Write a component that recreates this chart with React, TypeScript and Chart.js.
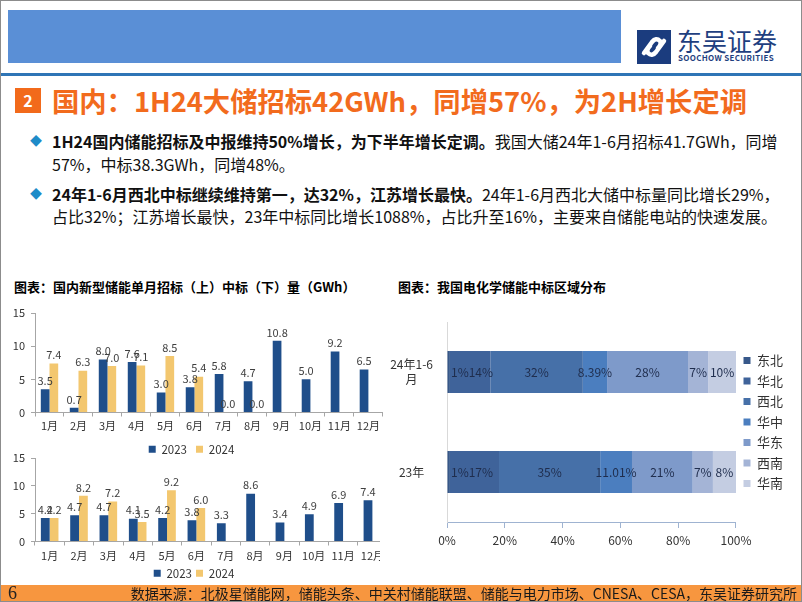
import React, { useEffect, useRef } from 'react';
import { Chart, registerables } from 'chart.js';

Chart.register(...registerables);

const FONT = '"Noto Sans CJK SC", "Noto Sans", sans-serif';

// ---------- data ----------
const months = ['1月', '2月', '3月', '4月', '5月', '6月', '7月', '8月', '9月', '10月', '11月', '12月'];
const seriesNames = ['2023', '2024'];
const tender2023 = [3.5, 0.7, 8.0, 7.6, 3.0, 3.8, 5.8, 4.7, 10.8, 5.0, 9.2, 6.5];
const tender2024 = [7.4, 6.3, 7.0, 7.1, 8.5, 5.4, 0.0, 0.0, null, null, null, null];
const award2023 = [4.2, 4.7, 4.7, 4.1, 4.2, 3.8, 3.3, 8.6, 3.4, 4.9, 6.9, 7.4];
const award2024 = [4.2, 8.2, 7.2, 3.5, 9.2, 6.0, null, null, null, null, null, null];
const gwhTicks = [0, 5, 10, 15];

const periods = [['24年1-6', '月'], '23年'];
const regions = ['东北', '华北', '西北', '华中', '华东', '西南', '华南'];
const share24H1 = [1, 14, 32, 8.39, 28, 7, 10];
const share23 = [1, 17, 35, 11.01, 21, 7, 8];
const pctTicks = [0, 20, 40, 60, 80, 100];

// ---------- styles ----------
const seriesColors = ['#1F4E8A', '#F3C76F'];
const regionColors = ['#37588A', '#3F639A', '#4670A8', '#4B7EBF', '#7E9ACA', '#A4B4D6', '#C4CDE2'];

const barValueLabels = {
  id: 'barValueLabels',
  afterDatasetsDraw(chart: any) {
    const { ctx } = chart;
    ctx.save();
    ctx.font = `11px ${FONT}`;
    ctx.fillStyle = '#404040';
    ctx.textAlign = 'center';
    ctx.textBaseline = 'bottom';
    chart.data.datasets.forEach((ds: any, i: number) => {
      const meta = chart.getDatasetMeta(i);
      meta.data.forEach((el: any, j: number) => {
        const v = ds.data[j];
        if (v == null) return;
        ctx.fillText(Number(v).toFixed(1), el.x, el.y - 3);
      });
    });
    ctx.restore();
  },
};

const shareLabels = {
  id: 'shareLabels',
  afterDatasetsDraw(chart: any) {
    const { ctx } = chart;
    ctx.save();
    ctx.font = `12px ${FONT}`;
    ctx.fillStyle = '#1F2D4D';
    ctx.textAlign = 'left';
    ctx.textBaseline = 'middle';
    const n = chart.data.labels.length;
    for (let j = 0; j < n; j++) {
      let prevRight = -Infinity;
      chart.data.datasets.forEach((ds: any, i: number) => {
        const el: any = chart.getDatasetMeta(i).data[j];
        const v = ds.data[j];
        if (v == null || !el) return;
        const text = `${v}%`;
        const w = ctx.measureText(text).width;
        const start = Math.min(el.base, el.x);
        const end = Math.min(Math.max(el.base, el.x), chart.chartArea.right);
        const center = (start + end) / 2;
        const left = Math.max(center - w / 2, prevRight, chart.chartArea.left + 4);
        ctx.fillText(text, left, el.y);
        prevRight = left + w;
      });
    }
    ctx.restore();
  },
};

type BarProps = {
  d23: (number | null)[];
  d24: (number | null)[];
  width: number;
  height: number;
  padTop: number;
  labelPad: number;
  legendPad: number;
};

function MonthlyBars({ d23, d24, width, height, padTop, labelPad, legendPad }: BarProps) {
  const ref = useRef<HTMLCanvasElement>(null);
  useEffect(() => {
    const chart = new Chart(ref.current as HTMLCanvasElement, {
      type: 'bar',
      data: {
        labels: months,
        datasets: [
          { label: seriesNames[0], data: d23, backgroundColor: seriesColors[0], categoryPercentage: 0.6, barPercentage: 1 },
          { label: seriesNames[1], data: d24, backgroundColor: seriesColors[1], categoryPercentage: 0.6, barPercentage: 1 },
        ],
      } as any,
      options: {
        animation: false,
        responsive: false,
        devicePixelRatio: 1,
        layout: { padding: { top: padTop, right: 0, left: 0, bottom: 0 } },
        plugins: {
          legend: {
            position: 'bottom',
            labels: { boxWidth: 7, boxHeight: 7, padding: legendPad, color: '#333', font: { size: 11.5, family: FONT } },
          },
          tooltip: { enabled: false },
        },
        scales: {
          x: {
            grid: { display: true, drawOnChartArea: false, drawTicks: true, tickLength: 4, color: '#A6A6A6', offset: true },
            border: { color: '#A6A6A6' },
            ticks: { color: '#333', font: { size: 11, family: FONT }, padding: labelPad, maxRotation: 0, autoSkip: false },
            afterFit: (s: any) => { s.height = 22; },
          },
          y: {
            min: gwhTicks[0],
            max: gwhTicks[gwhTicks.length - 1],
            afterBuildTicks: (s: any) => { s.ticks = gwhTicks.map((v) => ({ value: v })); },
            grid: { display: true, drawOnChartArea: false, drawTicks: true, tickLength: 4, color: '#A6A6A6' },
            border: { color: '#A6A6A6' },
            ticks: { color: '#333', font: { size: 11, family: FONT }, padding: 6 },
            afterFit: (s: any) => { s.width = 35; },
          },
        },
      } as any,
      plugins: [barValueLabels],
    });
    return () => chart.destroy();
  }, []);
  return <canvas ref={ref} width={width} height={height} style={{ display: 'block', width, height }} />;
}

function RegionShares() {
  const ref = useRef<HTMLCanvasElement>(null);
  useEffect(() => {
    const chart = new Chart(ref.current as HTMLCanvasElement, {
      type: 'bar',
      data: {
        labels: periods,
        datasets: regions.map((r, i) => ({
          label: r,
          data: [share24H1[i], share23[i]],
          backgroundColor: regionColors[i],
          barPercentage: 0.42,
          categoryPercentage: 1,
        })),
      } as any,
      options: {
        indexAxis: 'y',
        animation: false,
        responsive: false,
        devicePixelRatio: 1,
        layout: { padding: { top: 22, right: 9, left: 0, bottom: 0 } },
        plugins: {
          legend: {
            position: 'right',
            fullSize: false,
            labels: { boxWidth: 7, boxHeight: 7, padding: 7.5, color: '#333', font: { size: 13, family: FONT } },
          },
          tooltip: { enabled: false },
        },
        scales: {
          x: {
            stacked: true,
            min: pctTicks[0],
            max: pctTicks[pctTicks.length - 1],
            afterBuildTicks: (s: any) => { s.ticks = pctTicks.map((v) => ({ value: v })); },
            grid: { display: true, drawOnChartArea: false, drawTicks: true, tickLength: 6, color: '#9FB3D1' },
            border: { color: '#9FB3D1' },
            ticks: { color: '#333', font: { size: 12, family: FONT }, padding: 5, callback: (v: any) => `${v}%` },
            afterFit: (s: any) => { s.height = 30; },
          },
          y: {
            stacked: true,
            grid: { display: true, drawOnChartArea: false, drawTicks: false },
            border: { color: '#D9D9D9' },
            ticks: { color: '#333', font: { size: 12, family: FONT }, padding: 14, crossAlign: 'center' },
            afterFit: (s: any) => { s.width = 62; },
          },
        },
      } as any,
      plugins: [shareLabels],
    });
    return () => chart.destroy();
  }, []);
  return <canvas ref={ref} width={417} height={252} style={{ display: 'block', width: 417, height: 252 }} />;
}

function Logo() {
  return (
    <div style={{ position: 'absolute', left: 637, top: 28 }}>
      <svg width={34} height={34} style={{ position: 'absolute', left: 0, top: 2 }}>
        <rect x={0} y={0} width={34} height={34} fill="#1B3C7E" />
        <path d="M7 23 L15 12 Q19 7 23 11 Q25 14 21 18" stroke="#fff" strokeWidth={4.5} fill="none" strokeLinecap="round" />
        <path d="M27 11 L19 22 Q15 27 11 23 Q9 20 13 16" stroke="#fff" strokeWidth={4.5} fill="none" strokeLinecap="round" />
      </svg>
      <div style={{ position: 'absolute', left: 40, top: -3, fontSize: 25, lineHeight: '30px', color: '#1F3F7F', fontFamily: FONT, whiteSpace: 'nowrap' }}>东吴证券</div>
      <div style={{ position: 'absolute', left: 41, top: 25, fontSize: 8, fontWeight: 700, lineHeight: '10px', color: '#1F3F7F', fontFamily: FONT, letterSpacing: 0.3, whiteSpace: 'nowrap' }}>SOOCHOW SECURITIES</div>
    </div>
  );
}

export default function App() {
  const text: React.CSSProperties = { position: 'absolute', fontFamily: FONT, whiteSpace: 'nowrap', color: '#111' };
  return (
    <div style={{ position: 'absolute', left: 0, top: 0, width: 802, height: 602, background: '#fff', overflow: 'hidden', fontFamily: FONT }}>
      <div style={{ position: 'absolute', left: 8, top: 10, width: 613, height: 53, background: '#5A8FD6' }} />
      <Logo />
      <div style={{ position: 'absolute', left: 0, top: 73, width: 802, height: 3, background: '#2E75B6' }} />
      <div style={{ position: 'absolute', left: 15, top: 88, width: 26, height: 25, background: '#F26A1B', color: '#fff', fontWeight: 700, fontSize: 16, lineHeight: '25px', textAlign: 'center' }}>2</div>
      <div style={{ ...text, left: 52, top: 84, fontSize: 27.3, fontWeight: 700, lineHeight: '33px', color: '#F26B1D' }}>国内：1H24大储招标42GWh，同增57%，为2H增长定调</div>

      <div style={{ ...text, left: 30, top: 133, fontSize: 12, lineHeight: '16px', color: '#1E8BC8' }}>◆</div>
      <div style={{ ...text, left: 52, top: 131, fontSize: 16, lineHeight: '20px' }}><b>1H24国内储能招标及中报维持50%增长，为下半年增长定调。</b>我国大储24年1-6月招标41.7GWh，同增</div>
      <div style={{ ...text, left: 52, top: 154, fontSize: 16, lineHeight: '20px' }}>57%，中标38.3GWh，同增48%。</div>
      <div style={{ ...text, left: 30, top: 186, fontSize: 12, lineHeight: '16px', color: '#1E8BC8' }}>◆</div>
      <div style={{ ...text, left: 52, top: 184, fontSize: 16, lineHeight: '20px' }}><b>24年1-6月西北中标继续维持第一，达32%，江苏增长最快。</b>24年1-6月西北大储中标量同比增长29%，</div>
      <div style={{ ...text, left: 52, top: 206, fontSize: 16, lineHeight: '20px' }}>占比32%；江苏增长最快，23年中标同比增长1088%，占比升至16%，主要来自储能电站的快速发展。</div>

      <div style={{ ...text, left: 14, top: 279, fontSize: 13, fontWeight: 700, lineHeight: '16px', color: '#000' }}>图表：国内新型储能单月招标（上）中标（下）量（GWh）</div>
      <div style={{ ...text, left: 398, top: 279, fontSize: 13, fontWeight: 700, lineHeight: '16px', color: '#000' }}>图表：我国电化学储能中标区域分布</div>

      <div style={{ position: 'absolute', left: 0, top: 300, width: 382, height: 165 }}>
        <MonthlyBars d23={tender2023} d24={tender2024} width={383} height={165} padTop={13} labelPad={3} legendPad={9} />
      </div>
      <div style={{ position: 'absolute', left: 0, top: 445, width: 380, height: 144, overflow: 'hidden' }}>
        <MonthlyBars d23={award2023} d24={award2024} width={388} height={144} padTop={13} labelPad={4} legendPad={4} />
      </div>
      <div style={{ position: 'absolute', left: 385, top: 300, width: 417, height: 252 }}>
        <RegionShares />
      </div>

      <div style={{ position: 'absolute', left: 0, top: 585, width: 802, height: 17, background: '#F7963F' }} />
      <div style={{ position: 'absolute', left: 8, top: 584, fontSize: 18, lineHeight: '18px', fontFamily: '"Liberation Serif", serif', color: '#222' }}>6</div>
      <div style={{ ...text, right: 5, top: 585, fontSize: 14, lineHeight: '17px', color: '#1a1a1a' }}>数据来源：北极星储能网，储能头条、中关村储能联盟、储能与电力市场、CNESA、CESA，东吴证券研究所</div>
      <div style={{ position: 'absolute', left: 0, top: 0, width: 802, height: 602, boxSizing: 'border-box', border: '1px solid #8C8C8C', pointerEvents: 'none' }} />
    </div>
  );
}
